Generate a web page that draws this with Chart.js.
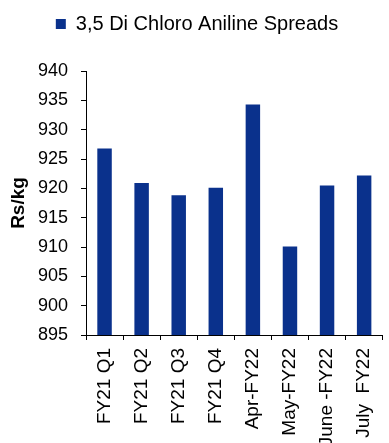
<!DOCTYPE html>
<html>
<head>
<meta charset="utf-8">
<script src="https://cdn.jsdelivr.net/npm/chart.js@4/dist/chart.umd.min.js"></script>
<style>
  html, body { margin: 0; padding: 0; background: #fff; }
  #wrap { width: 389px; height: 443px; overflow: hidden; position: relative; }
  canvas { display: block; }
</style>
</head>
<body>
<div id="wrap"><canvas id="c" width="395" height="443"></canvas></div>
<script>
const categories = ['FY21 Q1', 'FY21 Q2', 'FY21 Q3', 'FY21 Q4', 'Apr-FY22', 'May-FY22', 'June -FY22', 'July  FY22'];
const seriesName = '3,5 Di Chloro Aniline Spreads';
const spreads = [926.8, 920.9, 918.8, 920.1, 934.3, 910.1, 920.5, 922.2];
const yTicks = [895, 900, 905, 910, 915, 920, 925, 930, 935, 940];

const FONT = '"Liberation Sans", Arial, sans-serif';

const legendSpacer = {
  id: 'legendSpacer',
  beforeInit(chart) {
    const origFit = chart.legend.fit;
    chart.legend.fit = function () {
      origFit.call(this);
      this.height += 27;
    };
  }
};

new Chart(document.getElementById('c'), {
  type: 'bar',
  data: {
    labels: categories,
    datasets: [{
      label: seriesName,
      data: spreads,
      backgroundColor: '#0A318C',
      borderWidth: 0,
      categoryPercentage: 1,
      barPercentage: 0.39
    }]
  },
  options: {
    responsive: false,
    animation: false,
    devicePixelRatio: 1,
    layout: { padding: { top: 8, left: 0, right: 1, bottom: 0 } },
    plugins: {
      legend: {
        display: true,
        position: 'top',
        labels: {
          boxWidth: 10,
          boxHeight: 10,
          padding: 6,
          color: '#000',
          font: { family: FONT, size: 20 }
        }
      },
      tooltip: { enabled: false }
    },
    scales: {
      x: {
        offset: true,
        grid: {
          display: true,
          offset: true,
          drawOnChartArea: false,
          drawTicks: true,
          tickLength: 5,
          color: '#000',
          lineWidth: 1
        },
        border: { display: true, color: '#000', width: 1 },
        ticks: {
          color: '#000',
          font: { family: FONT, size: 19 },
          maxRotation: 90,
          minRotation: 90,
          autoSkip: false,
          padding: 8
        },
        afterFit(scale) { scale.height = 108; }
      },
      y: {
        min: 895,
        max: 940,
        afterBuildTicks(scale) { scale.ticks = yTicks.map(v => ({ value: v })); },
        grid: {
          display: true,
          drawOnChartArea: false,
          drawTicks: true,
          tickLength: 5,
          color: '#000',
          lineWidth: 1
        },
        border: { display: true, color: '#000', width: 1 },
        ticks: {
          color: '#000',
          font: { family: FONT, size: 18 },
          padding: 13
        },
        title: {
          display: true,
          text: 'Rs/kg',
          color: '#000',
          font: { family: FONT, size: 19, weight: 'bold' },
          padding: { top: 7, bottom: 0 }
        },
        afterFit(scale) { scale.width = 86; }
      }
    }
  },
  plugins: [legendSpacer]
});
</script>
</body>
</html>
